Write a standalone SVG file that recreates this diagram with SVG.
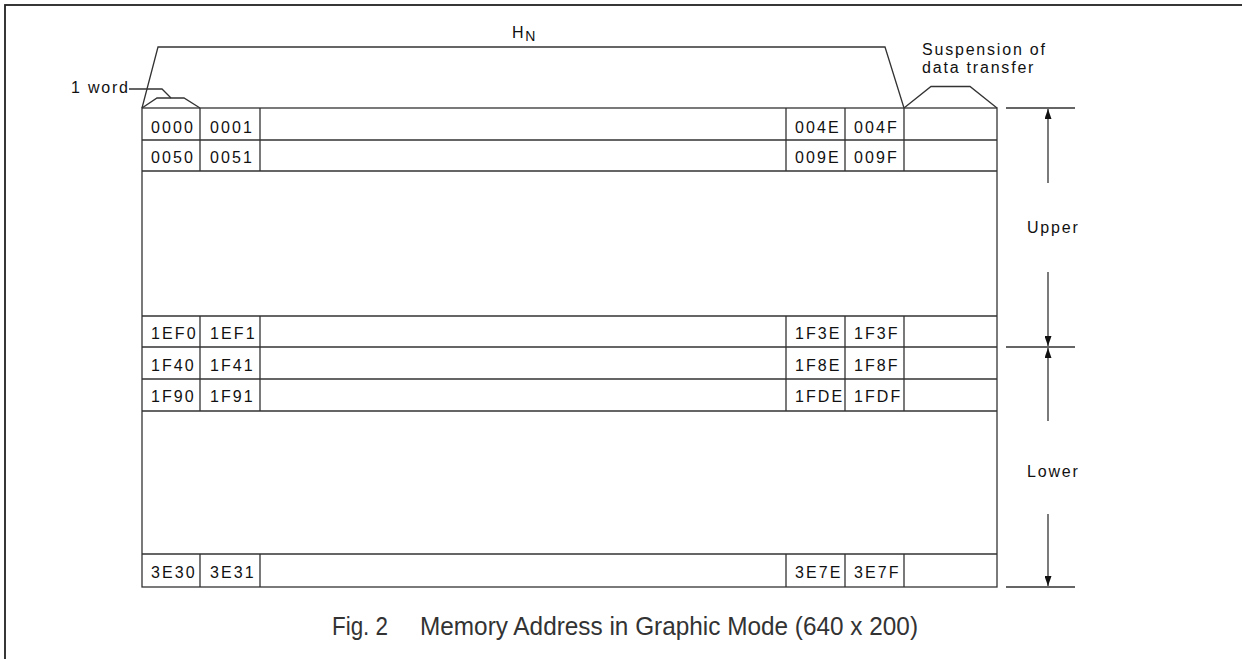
<svg xmlns="http://www.w3.org/2000/svg" width="1242" height="659" viewBox="0 0 1242 659">
<defs>
<style>
.ln{stroke:#333;stroke-width:1.3;fill:none}
.t{font-family:"Liberation Sans",Arial,sans-serif;font-size:16px;fill:#111;letter-spacing:1.8px}
.d{font-family:"Liberation Sans",Arial,sans-serif;font-size:16px;fill:#111;letter-spacing:2.1px}
.cap{font-family:"Liberation Sans",Arial,sans-serif;font-size:26px;fill:#333}
</style>
<marker id="ah" viewBox="0 0 10 10" refX="10" refY="5" markerWidth="10" markerHeight="7" markerUnits="userSpaceOnUse" orient="auto" preserveAspectRatio="none">
<path d="M0,0 L10,5 L0,10 Z" fill="#111"/>
</marker>
</defs>
<rect width="1242" height="659" fill="#fff"/>
<rect x="5" y="5" width="1260" height="700" fill="none" stroke="#222" stroke-width="1.8"/>

<g id="table">
<rect x="142" y="108" width="855" height="479" class="ln"/>
<path class="ln" d="M142,140H997 M142,171H997 M142,316H997 M142,347H997 M142,379H997 M142,411H997 M142,554H997"/>
<path class="ln" d="M200,108V171 M260,108V171 M786,108V171 M845,108V171 M904,108V171"/>
<path class="ln" d="M200,316V411 M260,316V411 M786,316V411 M845,316V411 M904,316V411"/>
<path class="ln" d="M200,554V587 M260,554V587 M786,554V587 M845,554V587 M904,554V587"/>
</g>

<g id="cells">
<text class="d" x="151" y="132.5">0000</text><text class="d" x="210" y="132.5">0001</text><text class="d" x="795" y="132.5">004E</text><text class="d" x="854" y="132.5">004F</text>
<text class="d" x="151" y="162.5">0050</text><text class="d" x="210" y="162.5">0051</text><text class="d" x="795" y="162.5">009E</text><text class="d" x="854" y="162.5">009F</text>
<text class="d" x="151" y="338.5">1EF0</text><text class="d" x="210" y="338.5">1EF1</text><text class="d" x="795" y="338.5">1F3E</text><text class="d" x="854" y="338.5">1F3F</text>
<text class="d" x="151" y="370.5">1F40</text><text class="d" x="210" y="370.5">1F41</text><text class="d" x="795" y="370.5">1F8E</text><text class="d" x="854" y="370.5">1F8F</text>
<text class="d" x="151" y="402">1F90</text><text class="d" x="210" y="402">1F91</text><text class="d" x="795" y="402">1FDE</text><text class="d" x="854" y="402">1FDF</text>
<text class="d" x="151" y="578">3E30</text><text class="d" x="210" y="578">3E31</text><text class="d" x="795" y="578">3E7E</text><text class="d" x="854" y="578">3E7F</text>
</g>

<g id="hn">
<path class="ln" d="M142,108 L158,47 H885 L904,108"/>
<text class="t" x="512" y="37.7" letter-spacing="0">H<tspan font-size="14" dy="3">N</tspan></text>
</g>

<g id="word">
<path class="ln" d="M142,108 L157,98 H184 L200,108"/>
<path class="ln" d="M129,89 H162 L171,98"/>
<text class="t" x="71" y="93">1 word</text>
</g>

<g id="suspension">
<path class="ln" d="M904,108 L931,86.5 H970 L997,108"/>
<text class="t" x="922" y="55" letter-spacing="1.3">Suspension of</text>
<text class="t" x="922" y="72.5" letter-spacing="1.3">data transfer</text>
</g>

<g id="connectors">
<path class="ln" d="M1006,108H1075 M1006,347H1075 M1006,587H1075"/>
<path class="ln" marker-end="url(#ah)" d="M1048,183V109"/>
<path class="ln" marker-end="url(#ah)" d="M1048,272V346"/>
<path class="ln" marker-end="url(#ah)" d="M1048,421V348"/>
<path class="ln" marker-end="url(#ah)" d="M1048,514V586"/>
</g>

<g id="labels">
<text class="t" x="1027" y="232.5">Upper</text>
<text class="t" x="1027" y="476.5">Lower</text>
</g>

<g id="caption">
<text class="cap" x="332" y="635" textLength="56" lengthAdjust="spacingAndGlyphs">Fig. 2</text>
<text class="cap" x="420" y="635" textLength="498" lengthAdjust="spacingAndGlyphs">Memory Address in Graphic Mode (640 x 200)</text>
</g>
</svg>
